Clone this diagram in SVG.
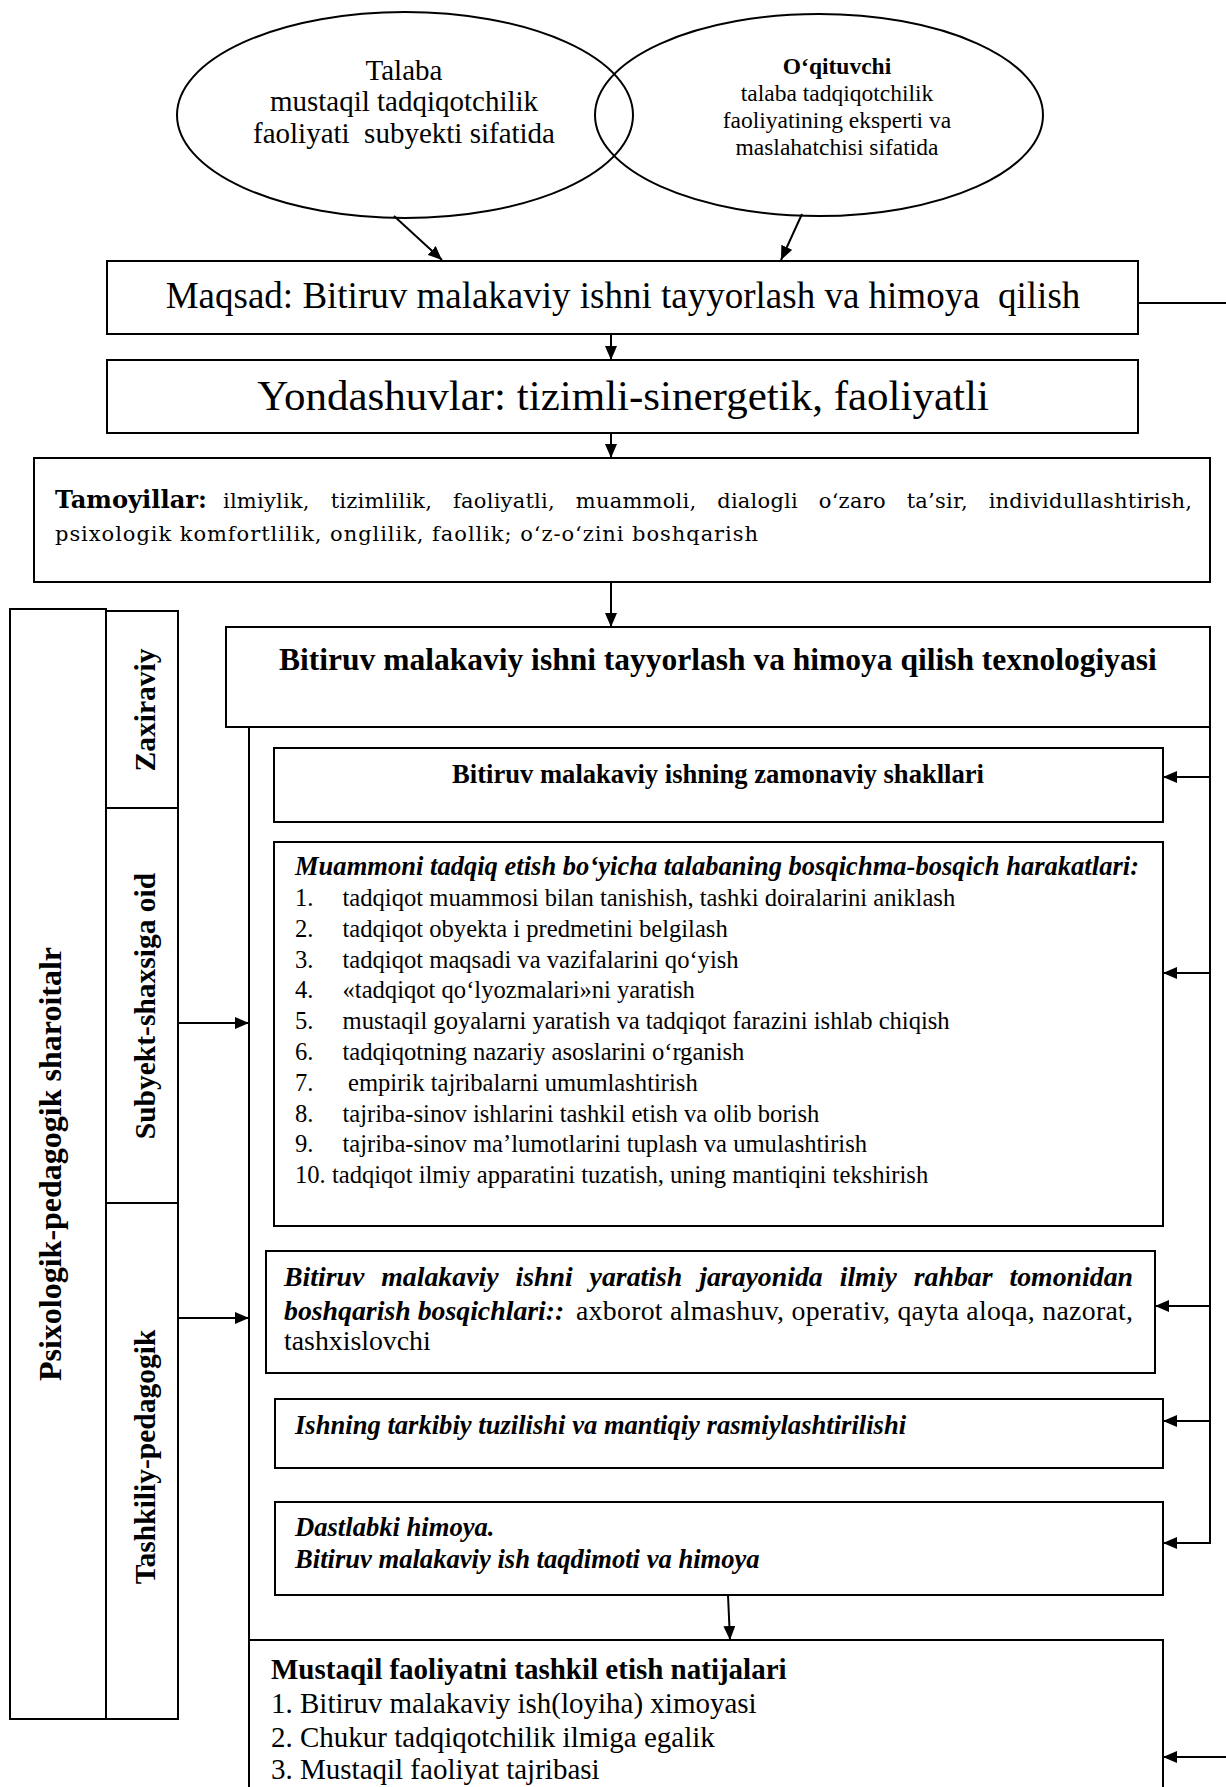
<svg xmlns="http://www.w3.org/2000/svg" width="1226" height="1787" viewBox="0 0 1226 1787">
<style>
.box{fill:none;stroke:#000;stroke-width:2}
.ln{fill:none;stroke:#000;stroke-width:2}
.arr{marker-end:url(#ah)}
text{font-family:"Liberation Serif","Times New Roman",serif;fill:#000}
.b{font-weight:bold}
.i{font-style:italic}
.c{text-anchor:middle}
.cb{font-family:"DejaVu Serif",serif}
.e1{font-size:29px}
.e2{font-size:23.5px}
.li{font-size:24.6px}
.rh{font-size:27.8px}
.bi{font-size:26.6px;font-weight:bold;font-style:italic}
.rs{font-size:29px}
.vt{font-size:29.5px;font-weight:bold;text-anchor:middle}
</style>
<defs>
<marker id="ah" markerUnits="userSpaceOnUse" markerWidth="14" markerHeight="12" refX="14" refY="6" orient="auto">
<path d="M0,0 L14,6 L0,12 Z" fill="#000"/>
</marker>
</defs>
<rect x="0" y="0" width="1226" height="1787" fill="#fff"/>

<g id="node-talaba">
<ellipse class="box" cx="405" cy="115" rx="228" ry="103"/>
<text class="e1 c" x="404" y="80">Talaba</text>
<text class="e1 c" x="404" y="111">mustaqil tadqiqotchilik</text>
<text class="e1 c" x="404" y="143">faoliyati&#160; subyekti sifatida</text>
</g>

<g id="node-oqituvchi">
<ellipse class="box" cx="819" cy="115" rx="224" ry="101"/>
<text class="e2 c b" x="837" y="74">O‘qituvchi</text>
<text class="e2 c" x="837" y="101">talaba tadqiqotchilik</text>
<text class="e2 c" x="837" y="128">faoliyatining eksperti va</text>
<text class="e2 c" x="837" y="155">maslahatchisi sifatida</text>
</g>

<g id="node-maqsad">
<rect class="box" x="107" y="261" width="1031" height="73"/>
<text class="c" x="623" y="308" font-size="37">Maqsad: Bitiruv malakaviy ishni tayyorlash va himoya&#160; qilish</text>
</g>

<g id="node-yondashuvlar">
<rect class="box" x="107" y="360" width="1031" height="73"/>
<text class="c" x="623" y="410" font-size="43">Yondashuvlar: tizimli-sinergetik, faoliyatli</text>
</g>

<g id="node-tamoyillar">
<rect class="box" x="34" y="458" width="1176" height="124"/>
<text class="cb b" x="55" y="508" font-size="24.5" textLength="152" lengthAdjust="spacingAndGlyphs">Tamoyillar:</text>
<text class="cb" x="223" y="508" font-size="21" word-spacing="14" textLength="969" lengthAdjust="spacing">ilmiylik, tizimlilik, faoliyatli, muammoli, dialogli o‘zaro ta’sir, individullashtirish,</text>
<text class="cb" x="55" y="541" font-size="21" textLength="703" lengthAdjust="spacing">psixologik komfortlilik, onglilik, faollik; o‘z-o‘zini boshqarish</text>
</g>

<g id="node-sharoitlar">
<rect class="box" x="10" y="609" width="96" height="1110"/>
<text transform="translate(61,1164) rotate(-90)" class="b c" font-size="32">Psixologik-pedagogik sharoitalr</text>
</g>

<g id="node-zaxiraviy">
<rect class="box" x="106" y="611" width="72" height="197"/>
<text transform="translate(155,710) rotate(-90)" class="vt">Zaxiraviy</text>
</g>

<g id="node-subyekt">
<rect class="box" x="106" y="808" width="72" height="395"/>
<text transform="translate(155,1006) rotate(-90)" class="vt">Subyekt-shaxsiga oid</text>
</g>

<g id="node-tashkiliy">
<rect class="box" x="106" y="1203" width="72" height="516"/>
<text transform="translate(155,1457) rotate(-90)" class="vt">Tashkiliy-pedagogik</text>
</g>

<g id="node-texnologiya">
<rect class="box" x="226" y="627" width="984" height="100"/>
<text class="b c" x="718" y="670" font-size="31.5">Bitiruv malakaviy ishni tayyorlash va himoya qilish texnologiyasi</text>
</g>

<g id="node-shakllar">
<rect class="box" x="274" y="748" width="889" height="74"/>
<text class="b c" x="718" y="783" font-size="26.6">Bitiruv malakaviy ishning zamonaviy shakllari</text>
</g>

<g id="node-muammoni">
<rect class="box" x="274" y="842" width="889" height="384"/>
<text class="b i" x="295" y="875" font-size="26.5" textLength="844" lengthAdjust="spacing">Muammoni tadqiq etish bo‘yicha talabaning bosqichma-bosqich harakatlari:</text>
<text class="li" x="295" y="906">1.</text><text class="li" x="342.5" y="906">tadqiqot muammosi bilan tanishish, tashki doiralarini aniklash</text>
<text class="li" x="295" y="937">2.</text><text class="li" x="342.5" y="937">tadqiqot obyekta i predmetini belgilash</text>
<text class="li" x="295" y="968">3.</text><text class="li" x="342.5" y="968">tadqiqot maqsadi va vazifalarini qo‘yish</text>
<text class="li" x="295" y="998">4.</text><text class="li" x="342.5" y="998">«tadqiqot qo‘lyozmalari»ni yaratish</text>
<text class="li" x="295" y="1029">5.</text><text class="li" x="342.5" y="1029">mustaqil goyalarni yaratish va tadqiqot farazini ishlab chiqish</text>
<text class="li" x="295" y="1060">6.</text><text class="li" x="342.5" y="1060">tadqiqotning nazariy asoslarini o‘rganish</text>
<text class="li" x="295" y="1091">7.</text><text class="li" x="348" y="1091">empirik tajribalarni umumlashtirish</text>
<text class="li" x="295" y="1122">8.</text><text class="li" x="342.5" y="1122">tajriba-sinov ishlarini tashkil etish va olib borish</text>
<text class="li" x="295" y="1152">9.</text><text class="li" x="342.5" y="1152">tajriba-sinov ma’lumotlarini tuplash va umulashtirish</text>
<text class="li" x="295" y="1183">10. tadqiqot ilmiy apparatini tuzatish, uning mantiqini tekshirish</text>
</g>

<g id="node-rahbar">
<rect class="box" x="266" y="1251" width="889" height="122"/>
<text class="rh b i" x="284" y="1286" word-spacing="10" textLength="849" lengthAdjust="spacing">Bitiruv malakaviy ishni yaratish jarayonida ilmiy rahbar tomonidan</text>
<text class="rh b i" x="284" y="1320">boshqarish bosqichlari::</text>
<text class="rh" x="576" y="1320" textLength="557" lengthAdjust="spacing">axborot almashuv, operativ, qayta aloqa, nazorat,</text>
<text class="rh" x="284" y="1350">tashxislovchi</text>
</g>

<g id="node-tarkibiy">
<rect class="box" x="275" y="1399" width="888" height="69"/>
<text class="bi" x="295" y="1434">Ishning tarkibiy tuzilishi va mantiqiy rasmiylashtirilishi</text>
</g>

<g id="node-himoya">
<rect class="box" x="275" y="1502" width="888" height="93"/>
<text class="bi" x="295" y="1536">Dastlabki himoya.</text>
<text class="bi" x="295" y="1568">Bitiruv malakaviy ish taqdimoti va himoya</text>
</g>

<g id="node-natijalar">
<path class="box" d="M249,1790 V1640 H1163 V1790"/>
<text class="rs b" x="271" y="1679">Mustaqil faoliyatni tashkil etish natijalari</text>
<text class="rs" x="271" y="1713">1. Bitiruv malakaviy ish(loyiha) ximoyasi</text>
<text class="rs" x="271" y="1747">2. Chukur tadqiqotchilik ilmiga egalik</text>
<text class="rs" x="271" y="1779">3. Mustaqil faoliyat tajribasi</text>
</g>

<g id="connectors">
<line class="ln arr" x1="394" y1="216" x2="442" y2="260"/>
<line class="ln arr" x1="802" y1="214" x2="781" y2="260"/>
<line class="ln arr" x1="611" y1="334" x2="611" y2="360"/>
<line class="ln arr" x1="611" y1="433" x2="611" y2="458"/>
<line class="ln arr" x1="611" y1="582" x2="611" y2="627"/>
<line class="ln" x1="1138" y1="303" x2="1226" y2="303"/>
<line class="ln" x1="249" y1="727" x2="249" y2="1790"/>
<line class="ln" x1="1210" y1="727" x2="1210" y2="1544"/>
<line class="ln arr" x1="178" y1="1023" x2="249" y2="1023"/>
<line class="ln arr" x1="178" y1="1318" x2="249" y2="1318"/>
<line class="ln arr" x1="1210" y1="777" x2="1163" y2="777"/>
<line class="ln arr" x1="1210" y1="973" x2="1163" y2="973"/>
<line class="ln arr" x1="1210" y1="1306" x2="1155" y2="1306"/>
<line class="ln arr" x1="1210" y1="1421" x2="1163" y2="1421"/>
<line class="ln arr" x1="1211" y1="1543" x2="1163" y2="1543"/>
<line class="ln arr" x1="1226" y1="1757" x2="1163" y2="1757"/>
<line class="ln arr" x1="728" y1="1595" x2="730" y2="1640"/>
</g>
</svg>
